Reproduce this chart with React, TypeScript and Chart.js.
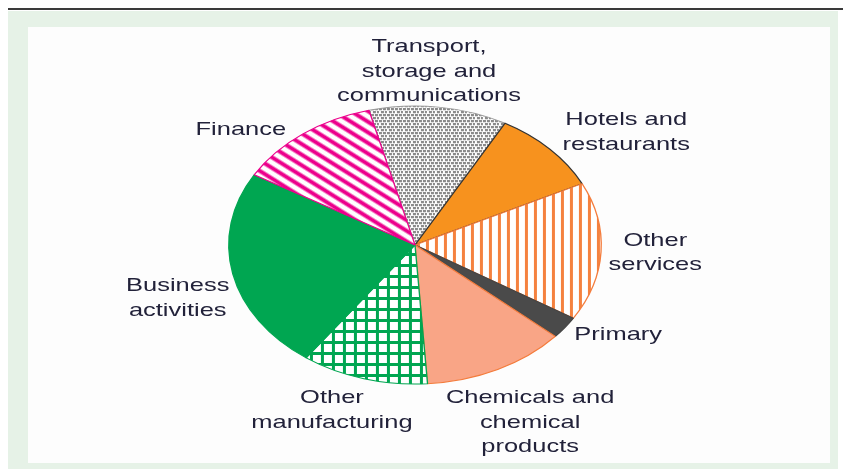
import React, { useEffect, useRef } from 'react';
import { Chart, registerables } from 'chart.js';
Chart.register(...registerables);

// ---- data ----
const categories = [
  'Transport, storage and communications',
  'Hotels and restaurants',
  'Other services',
  'Primary',
  'Chemicals and chemical products',
  'Other manufacturing',
  'Business activities',
  'Finance',
];
const labelLines = [
  ['Transport,', 'storage and', 'communications'],
  ['Hotels and', 'restaurants'],
  ['Other', 'services'],
  ['Primary'],
  ['Chemicals and', 'chemical', 'products'],
  ['Other', 'manufacturing'],
  ['Business', 'activities'],
  ['Finance'],
];
const shares = [12.0, 9.7, 16.1, 2.6, 12.5, 11.0, 23.5, 12.6];

// ---- style / layout ----
const START_ANGLE = -14.3;
const SX = 1.34; // horizontal stretch of the whole figure
const RADIUS = 139;
// label anchors in units of the pie radii (x, first baseline y) from the centre
const labelAnchors: [number, number][] = [
  [0.075, -1.388],
  [1.134, -0.863],
  [1.29, 0.007],
  [1.091, 0.683],
  [0.618, 1.137],
  [-0.446, 1.137],
  [-1.274, 0.331],
  [-0.935, -0.791],
];
const borderColors = ['#9a9a9a', '#333333', '#f47c3c', '#444444', '#f47c3c', '#00a651', '#00a651', '#ec008c'];

function tile(w: number, h: number, draw: (c: CanvasRenderingContext2D) => void) {
  const t = document.createElement('canvas');
  t.width = w;
  t.height = h;
  const c = t.getContext('2d')!;
  c.fillStyle = '#ffffff';
  c.fillRect(0, 0, w, h);
  draw(c);
  return t;
}

function makePattern(ctx: CanvasRenderingContext2D, t: HTMLCanvasElement, rot = 0) {
  const p = ctx.createPattern(t, 'repeat')!;
  const m = new DOMMatrix().scaleSelf(1 / SX, 1).rotateSelf(rot);
  p.setTransform(m);
  return p;
}

const ellipsePlugin = {
  id: 'ellipse',
  beforeDatasetsDraw(chart: any) {
    const arc = chart.getDatasetMeta(0).data[0];
    const ctx = chart.ctx;
    ctx.save();
    ctx.translate(arc.x, arc.y);
    ctx.scale(SX, 1);
    ctx.translate(-arc.x, -arc.y);
  },
  afterDatasetsDraw(chart: any) {
    chart.ctx.restore();
  },
};

const labelPlugin = {
  id: 'sliceLabels',
  afterDraw(chart: any) {
    const meta = chart.getDatasetMeta(0);
    const arc = meta.data[0];
    const r = arc.outerRadius;
    const ctx = chart.ctx;
    ctx.save();
    ctx.font = '19px "Liberation Sans", Arial, sans-serif';
    ctx.fillStyle = '#22223a';
    ctx.textAlign = 'center';
    ctx.textBaseline = 'alphabetic';
    labelLines.forEach((lines, i) => {
      const [ux, uy] = labelAnchors[i];
      const x = arc.x + ux * r * SX;
      const y0 = arc.y + uy * r;
      lines.forEach((line, j) => {
        ctx.save();
        ctx.translate(x, y0 + j * 24.5);
        ctx.scale(SX, 1);
        ctx.fillText(line, 0, 0);
        ctx.restore();
      });
    });
    ctx.restore();
  },
};

export default function App() {
  const ref = useRef<HTMLCanvasElement>(null);
  useEffect(() => {
    const canvas = ref.current!;
    const ctx = canvas.getContext('2d')!;

    const transport = makePattern(
      ctx,
      tile(8, 6, (c) => {
        c.fillStyle = '#8a8a8a';
        c.fillRect(0, 0, 3, 2.2);
        c.fillRect(4, 0, 3, 2.2);
        c.fillRect(2, 3, 3, 2.2);
        c.fillRect(6, 3, 3, 2.2);
      })
    );
    const services = makePattern(
      ctx,
      tile(9, 9, (c) => {
        c.fillStyle = '#f5823f';
        c.fillRect(0, 0, 3, 9);
      })
    );
    const manufacturing = makePattern(
      ctx,
      tile(11, 11, (c) => {
        c.fillStyle = '#00a651';
        c.fillRect(0, 0, 3, 11);
        c.fillRect(0, 0, 11, 3);
      })
    );
    const finance = makePattern(
      ctx,
      tile(9, 9, (c) => {
        c.fillStyle = '#ec008c';
        c.fillRect(0, 2.5, 9, 4);
      }),
      32
    );

    const fills: any[] = [transport, '#f7921e', services, '#4a4a4a', '#f9a586', manufacturing, '#00a651', finance];

    const chart = new Chart(canvas, {
      type: 'pie',
      data: {
        labels: categories,
        datasets: [
          {
            data: shares,
            backgroundColor: fills,
            borderColor: borderColors,
            borderWidth: 1,
            clip: false as any,
          },
        ],
      },
      options: {
        responsive: false,
        animation: false,
        devicePixelRatio: 1,
        rotation: START_ANGLE,
        radius: RADIUS,
        events: [],
        layout: { padding: { left: 200, right: 213, top: 106, bottom: 85 } },
        plugins: { legend: { display: false }, tooltip: { enabled: false } },
      } as any,
      plugins: [ellipsePlugin, labelPlugin],
    });
    return () => chart.destroy();
  }, []);

  return (
    <div style={{ position: 'fixed', left: 0, top: 0, width: 843, height: 469, background: '#ffffff', overflow: 'hidden' }}>
      <div style={{ position: 'absolute', left: 8, top: 8, width: 835, height: 2, background: '#3a3a3a' }} />
      <div style={{ position: 'absolute', left: 8, top: 11, width: 830, height: 458, background: '#e6f2e7' }} />
      <div style={{ position: 'absolute', left: 28, top: 27, width: 802, height: 436, background: '#fdfdfd' }} />
      <canvas ref={ref} width={843} height={469} style={{ position: 'absolute', left: 0, top: 0 }} />
    </div>
  );
}
